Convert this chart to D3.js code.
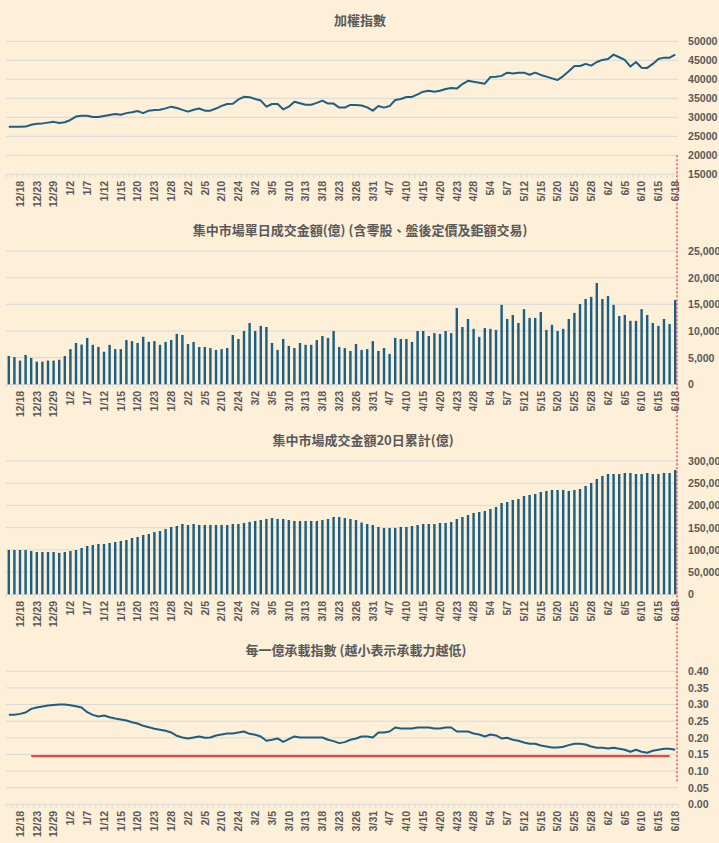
<!DOCTYPE html>
<html>
<head>
<meta charset="utf-8">
<script src="https://cdn.jsdelivr.net/npm/d3@7"></script>
<style>
  body { margin: 0; background: #fdefd8; }
  svg { display: block; }
  .titulo { font-family: "Noto Sans CJK TC", sans-serif; font-weight: bold; font-size: 13px; fill: #595959; text-anchor: middle; }
  .axis text { font-family: "Liberation Sans", Arial, sans-serif; font-weight: bold; font-size: 10.6px; fill: #595959; }
</style>
</head>
<body>
<div id="graf"></div>
<script>
// Fechas de cada sesion (categorias del eje x)
const fechas = ["12/16","12/17","12/18","12/19","12/22","12/23","12/24","12/26","12/29","12/30","12/31","1/2",
  "1/5","1/6","1/7","1/8","1/9","1/12","1/13","1/14","1/15","1/16","1/19","1/20","1/21","1/22","1/23",
  "1/26","1/27","1/28","1/29","1/30","2/2","2/3","2/4","2/5","2/6","2/9","2/10","2/11","2/23","2/24",
  "2/25","2/26","3/2","3/3","3/4","3/5","3/6","3/9","3/10","3/11","3/12","3/13","3/16","3/17","3/18",
  "3/19","3/20","3/23","3/24","3/25","3/26","3/27","3/30","3/31","4/1","4/2","4/7","4/8","4/9","4/10",
  "4/13","4/14","4/15","4/16","4/17","4/20","4/21","4/22","4/23","4/24","4/27","4/28","4/29","4/30","5/4",
  "5/5","5/6","5/7","5/8","5/11","5/12","5/13","5/14","5/15","5/18","5/19","5/20","5/21","5/22","5/25",
  "5/26","5/27","5/28","5/29","6/1","6/2","6/3","6/4","6/5","6/8","6/9","6/10","6/11","6/12","6/15",
  "6/16","6/17","6/18"];

// Etiquetas visibles del eje x
const etiquetas = ["12/18","12/23","12/29","1/2","1/7","1/12","1/15","1/20","1/23","1/28","2/2","2/5",
  "2/10","2/24","3/2","3/5","3/10","3/13","3/18","3/23","3/26","3/31","4/7","4/10","4/15","4/20","4/23",
  "4/28","5/4","5/7","5/12","5/15","5/20","5/25","5/28","6/2","6/5","6/10","6/15","6/18"];

// Serie 1: indice ponderado
const indice = [27500,27500,27500,27550,28050,28300,28400,28600,28800,28500,28700,29300,
  30200,30400,30400,30100,30100,30350,30600,30850,30650,31100,31350,31650,31100,31750,31900,
  32000,32350,32800,32450,31950,31500,32000,32300,31750,31750,32300,33000,33500,33550,34700,
  35400,35300,34800,34400,32800,33500,33500,32100,32800,34100,33700,33300,33300,33800,34400,
  33600,33600,32550,32550,33250,33250,33100,32600,31750,32950,32550,32950,34550,34800,35350,
  35350,36050,36750,37000,36750,37000,37450,37700,37550,38750,39600,39350,39100,38850,40600,
  40700,40900,41750,41500,41750,41750,41200,41750,41150,40700,40250,39800,40850,42100,43500,
  43500,44050,43600,44550,45100,45350,46500,45800,45100,43350,44550,43050,43000,44050,45350,
  45700,45700,46500];

// Serie 2: monto diario (億)
const volumen = [5300,5100,4450,5500,4950,4250,4250,4450,4450,4600,5300,6600,
  7750,7450,8700,7400,7000,6100,7400,6600,6600,8300,8100,7750,8900,7950,8100,
  7400,7950,8300,9450,9250,7550,7950,7000,7000,6800,6450,6600,6800,9250,8500,
  10000,11500,10000,10950,10750,7750,6450,8500,7200,6800,7750,7400,7400,8300,9050,
  8700,10000,7000,6800,6250,7550,6450,6600,8100,6250,6800,5700,8700,8500,8500,
  7950,10000,10000,9050,9600,9450,10000,9600,14300,10750,12250,10400,8900,10550,10400,
  10200,14900,12250,13000,11500,14100,12450,12450,13550,10200,11150,10000,10400,12250,13400,
  15050,16000,16400,19000,16000,16550,14900,12800,13000,11900,11900,14100,13000,11500,10950,
  12250,11300,15800];

// Serie 3: acumulado de 20 dias (億)
const acumulado = [99750,99750,99750,99750,97500,95250,95250,95250,95250,93000,95250,97500,
  99750,104250,108750,111000,113250,113250,115500,117750,120000,122250,126750,129000,133500,135750,140250,
  142500,147000,151500,153750,158250,156000,158250,156000,156000,156000,156000,156000,156000,158250,158250,
  160500,162750,165000,167250,169500,171750,169500,169500,167250,165000,165000,165000,165000,165000,167250,
  169500,174000,174000,171750,169500,167250,161500,158250,156000,151500,149250,149250,149250,151500,151500,
  153750,156000,158250,158250,158250,160500,160500,162750,169500,174000,178500,183000,185250,187500,192000,
  196500,205500,207750,212250,214500,221250,223500,225750,230250,232500,234750,234750,234750,232500,234750,
  237000,243750,250500,259500,266250,270750,270750,270750,273000,273000,270750,270750,273000,270750,270750,
  273000,273000,279750];

// Serie 4: indice de carga por cada 億
const carga = [0.269,0.269,0.272,0.276,0.287,0.291,0.294,0.297,0.299,0.300,0.300,0.298,
  0.295,0.291,0.277,0.269,0.264,0.267,0.262,0.258,0.255,0.252,0.247,0.243,0.236,0.232,0.227,
  0.224,0.221,0.216,0.206,0.201,0.198,0.201,0.204,0.200,0.201,0.207,0.210,0.213,0.213,0.216,
  0.219,0.212,0.209,0.204,0.191,0.194,0.198,0.188,0.196,0.204,0.201,0.201,0.201,0.201,0.201,
  0.194,0.190,0.184,0.187,0.194,0.198,0.204,0.204,0.201,0.216,0.216,0.219,0.231,0.228,0.228,
  0.228,0.231,0.231,0.231,0.228,0.228,0.231,0.231,0.219,0.219,0.219,0.213,0.210,0.204,0.210,
  0.207,0.198,0.200,0.194,0.191,0.186,0.182,0.182,0.177,0.174,0.171,0.171,0.173,0.178,0.182,
  0.182,0.180,0.174,0.170,0.170,0.168,0.170,0.167,0.164,0.158,0.164,0.158,0.155,0.161,0.164,
  0.167,0.167,0.164];

// Linea roja de referencia en la serie 4
const limiteValor = 0.145;
const limiteDesde = "12/22";
const limiteHasta = "6/17";

// Valores del eje y de cada grafica
const ticksIndice = [15000,20000,25000,30000,35000,40000,45000,50000];
const ticksVolumen = [0,5000,10000,15000,20000,25000];
const ticksAcumulado = [0,50000,100000,150000,200000,250000,300000];
const ticksCarga = [0,0.05,0.10,0.15,0.20,0.25,0.30,0.35,0.40];

const titulos = ["加權指數",
  "集中市場單日成交金額(億) (含零股、盤後定價及鉅額交易)",
  "集中市場成交金額20日累計(億)",
  "每一億承載指數 (越小表示承載力越低)"];

// Dimensiones
const anchoTotal = 719;
const altoTotal = 843;
const izq = 6, der = 678;
const azul = "#1a5f84";
const gris = "#d9d9d9";

const svg = d3.select("#graf")
  .append("svg")
  .attr("width", anchoTotal)
  .attr("height", altoTotal);

const x = d3.scaleBand().domain(fechas).range([izq, der]).padding(0);
const centro = (d) => x(d) + x.bandwidth() / 2;

const paneles = [
  { titulo: titulos[0], tx: 360, ty: 25, arriba: 41.3, abajo: 174.3, ticks: ticksIndice, datos: indice, tipo: "linea", formato: d3.format("d") },
  { titulo: titulos[1], tx: 360, ty: 235, arriba: 251, abajo: 384.3, ticks: ticksVolumen, datos: volumen, tipo: "barra", formato: d3.format(",") },
  { titulo: titulos[2], tx: 363, ty: 445, arriba: 461, abajo: 594.3, ticks: ticksAcumulado, datos: acumulado, tipo: "barra", formato: d3.format(",") },
  { titulo: titulos[3], tx: 356, ty: 655, arriba: 671.3, abajo: 804.3, ticks: ticksCarga, datos: carga, tipo: "linea", formato: d3.format(".2f") }
];

const escalas = [];

paneles.forEach((p) => {
  const g = svg.append("g");
  const y = d3.scaleLinear()
    .domain(d3.extent(p.ticks))
    .range([p.abajo, p.arriba]);
  escalas.push(y);

  // lineas de cuadricula
  g.append("g")
    .selectAll("line")
    .data(p.ticks)
    .join("line")
    .attr("x1", izq)
    .attr("x2", der)
    .attr("y1", (d) => y(d))
    .attr("y2", (d) => y(d))
    .attr("stroke", gris)
    .attr("stroke-width", 1);

  // marcas del eje x en cada sesion
  g.append("g")
    .selectAll("line")
    .data(fechas.concat([null]))
    .join("line")
    .attr("x1", (d) => d ? x(d) : der)
    .attr("x2", (d) => d ? x(d) : der)
    .attr("y1", p.abajo)
    .attr("y2", p.abajo + 3.5)
    .attr("stroke", gris)
    .attr("stroke-width", 1);

  // eje y a la derecha
  const yAxis = d3.axisRight(y).tickValues(p.ticks).tickSize(0).tickPadding(10).tickFormat(p.formato);
  g.append("g")
    .classed("axis", true)
    .attr("transform", `translate(${der}, 0)`)
    .call(yAxis)
    .call((a) => a.select(".domain").remove());

  // eje x con etiquetas verticales
  const xAxis = d3.axisBottom(x).tickValues(etiquetas).tickSize(0);
  g.append("g")
    .classed("axis", true)
    .attr("transform", `translate(0, ${p.abajo})`)
    .call(xAxis)
    .call((a) => a.select(".domain").remove())
    .selectAll("text")
    .attr("transform", "rotate(-90)")
    .attr("text-anchor", "end")
    .attr("x", -6.5)
    .attr("y", 0)
    .attr("dy", "0.35em");

  // elementos graficos
  if (p.tipo === "barra") {
    g.append("g")
      .selectAll("rect")
      .data(p.datos)
      .join("rect")
      .attr("x", (d, i) => centro(fechas[i]) - 1.2)
      .attr("width", 2.4)
      .attr("y", (d) => y(d))
      .attr("height", (d) => p.abajo - y(d))
      .attr("fill", azul);
  } else {
    const linea = d3.line()
      .x((d, i) => centro(fechas[i]))
      .y((d) => y(d));
    g.append("path")
      .datum(p.datos)
      .attr("d", linea)
      .attr("fill", "none")
      .attr("stroke", azul)
      .attr("stroke-width", 2)
      .attr("stroke-linejoin", "round");
  }

  // titulo
  g.append("text")
    .attr("x", p.tx)
    .attr("y", p.ty)
    .classed("titulo", true)
    .text(p.titulo);
});

// linea roja horizontal en la grafica de carga
const yCarga = escalas[3];
svg.append("line")
  .attr("x1", centro(limiteDesde))
  .attr("x2", centro(limiteHasta))
  .attr("y1", yCarga(limiteValor))
  .attr("y2", yCarga(limiteValor))
  .attr("stroke", "#ff0000")
  .attr("stroke-width", 1.5);

// linea punteada vertical al final de la serie
svg.append("line")
  .attr("x1", der - 1)
  .attr("x2", der - 1)
  .attr("y1", escalas[0](20000))
  .attr("y2", yCarga(0.065))
  .attr("stroke", "#e8403a")
  .attr("stroke-width", 1.3)
  .attr("stroke-dasharray", "2,2");
</script>
</body>
</html>
